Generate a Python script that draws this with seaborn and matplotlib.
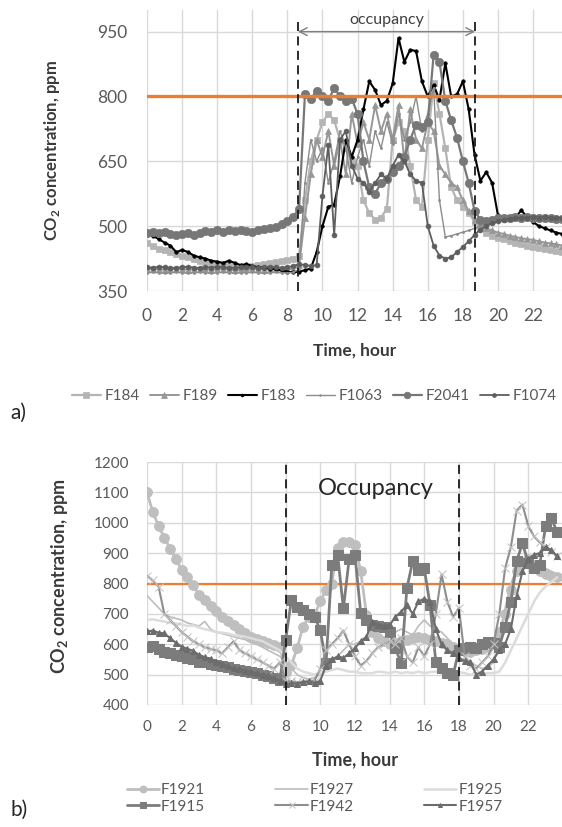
import numpy as np
import pandas as pd
import matplotlib
matplotlib.use("Agg")
import matplotlib.pyplot as plt
import seaborn as sns

# 20-minute readings over one day (hour of day)
hours = np.arange(72) / 3.0

# ---- panel a) ----
f184 = [460, 455, 448, 445, 440, 435, 430, 428, 425, 420, 418, 415,
        412, 410, 408, 406, 405, 405, 408, 410, 412, 415, 418, 420,
        422, 425, 432, 560, 650, 700, 740, 760, 745, 700, 680, 650,
        640, 560, 530, 515, 520, 540, 700, 740, 720, 640, 560, 545,
        700, 830, 760, 680, 590, 560, 545, 530, 510, 495, 485, 478,
        472, 470, 465, 462, 458, 455, 452, 450, 447, 445, 442, 440]
f189 = [400, 401, 400, 399, 400, 401, 400, 399, 400, 401, 400, 399,
        400, 401, 400, 399, 400, 400, 401, 400, 399, 400, 401, 400,
        400, 402, 410, 520, 620, 700, 660, 720, 640, 700, 620, 760,
        690, 740, 700, 780, 720, 760, 700, 780, 650, 770, 700, 680,
        740, 720, 640, 620, 600, 590, 560, 535, 515, 505, 495, 490,
        485, 482, 478, 475, 472, 470, 468, 465, 462, 460, 458, 455]
f183 = [482, 478, 470, 462, 455, 440, 445, 440, 432, 428, 425, 420,
        418, 415, 420, 415, 410, 412, 408, 405, 404, 402, 400, 398,
        395, 393, 395, 398, 402, 440, 500, 545, 550, 615, 700, 660,
        700, 770, 835, 815, 780, 790, 830, 935, 880, 908, 905, 835,
        800, 827, 792, 877, 800, 805, 835, 770, 665, 605, 625, 600,
        525, 515, 518, 520, 537, 520, 510, 500, 495, 490, 485, 482]
f1063 = [392, 393, 392, 391, 392, 393, 392, 391, 392, 393, 392, 391,
         392, 393, 392, 391, 392, 392, 393, 392, 391, 392, 393, 392,
         392, 393, 400, 600, 700, 650, 680, 600, 650, 720, 680, 600,
         660, 700, 640, 720, 680, 740, 690, 760, 700, 740, 800, 720,
         760, 820, 560, 475, 478, 482, 486, 490, 495, 500, 505, 508,
         512, 515, 518, 518, 520, 520, 520, 520, 518, 518, 517, 516]
f2041 = [485, 487, 484, 486, 483, 480, 482, 485, 480, 484, 488, 486,
         490, 487, 491, 489, 492, 488, 487, 490, 493, 495, 498, 505,
         512, 522, 540, 805, 795, 812, 800, 790, 820, 800, 790, 795,
         760, 650, 590, 575, 600, 610, 625, 640, 660, 700, 735, 730,
         740, 896, 880, 790, 745, 705, 650, 600, 535, 515, 512, 515,
         518, 520, 520, 522, 520, 521, 520, 519, 520, 518, 517, 516]
f1074 = [405, 404, 406, 405, 403, 404, 405, 406, 404, 403, 405, 404,
         406, 405, 403, 404, 405, 406, 405, 404, 405, 406, 405, 404,
         405, 408, 412, 410, 408, 410, 570, 688, 480, 700, 720, 640,
         610, 600, 580, 600, 620, 610, 640, 665, 650, 620, 605, 600,
         500, 455, 432, 425, 428, 440, 452, 465, 480, 492, 500, 507,
         512, 515, 517, 518, 520, 520, 521, 520, 521, 520, 519, 518]

# ---- panel b) ----
f1921 = [1100, 1035, 990, 950, 915, 880, 845, 820, 795, 763, 745, 725,
         708, 690, 675, 664, 650, 638, 625, 618, 610, 603, 598, 592,
         510, 532, 587, 658, 690, 697, 741, 780, 800, 916, 938, 935,
         927, 840, 697, 640, 620, 610, 600, 605, 610, 615, 620, 625,
         620, 615, 610, 605, 600, 590, 585, 578, 575, 580, 585, 590,
         600, 640, 700, 780, 840, 870, 880, 860, 840, 830, 825, 820]
f1927 = [760, 740, 720, 700, 690, 685, 680, 670, 665, 660, 675, 650,
         640, 635, 630, 625, 620, 615, 605, 600, 590, 580, 570, 560,
         540, 520, 500, 490, 485, 490, 500, 520, 540, 560, 580, 600,
         600, 610, 620, 630, 640, 650, 660, 640, 650, 640, 630, 660,
         680, 660, 650, 640, 620, 600, 580, 560, 540, 530, 520, 525,
         540, 600, 720, 800, 850, 870, 880, 870, 860, 850, 840, 830]
f1925 = [680, 682, 678, 675, 670, 668, 665, 660, 662, 655, 650, 645,
         640, 638, 635, 630, 628, 625, 620, 615, 610, 600, 590, 580,
         560, 540, 520, 510, 505, 500, 505, 510, 515, 520, 515, 510,
         510, 505, 505, 505, 510, 508, 505, 510, 505, 508, 505, 510,
         505, 508, 510, 505, 505, 510, 508, 505, 500, 500, 502, 505,
         505, 510, 540, 580, 620, 660, 700, 740, 770, 790, 805, 820]
f1915 = [592, 595, 585, 575, 570, 565, 560, 555, 550, 543, 540, 535,
         532, 528, 524, 520, 516, 513, 510, 505, 500, 494, 488, 482,
         614, 746, 724, 713, 700, 690, 647, 537, 862, 895, 718, 880,
         895, 702, 680, 663, 660, 658, 641, 587, 537, 785, 873, 846,
         850, 730, 543, 521, 505, 499, 581, 587, 590, 587, 600, 609,
         605, 592, 658, 740, 873, 933, 868, 851, 862, 988, 1015, 970]
f1942 = [825, 810, 790, 700, 680, 660, 640, 625, 610, 600, 590, 585,
         580, 570, 590, 610, 580, 570, 560, 550, 540, 530, 520, 540,
         480, 478, 475, 476, 478, 480, 520, 580, 600, 620, 645, 600,
         560, 530, 545, 570, 590, 600, 610, 600, 620, 560, 540, 590,
         560, 600, 700, 830, 740, 690, 720, 560, 530, 520, 540, 560,
         600, 700, 850, 920, 1040, 1060, 990, 955, 935, 920, 905, 890]
f1957 = [642, 645, 638, 636, 620, 605, 592, 585, 578, 565, 558, 550,
         543, 535, 528, 521, 517, 513, 510, 505, 500, 494, 488, 480,
         470, 472, 470, 475, 478, 472, 480, 530, 550, 560, 555, 570,
         587, 610, 625, 674, 665, 660, 663, 690, 707, 729, 700, 741,
         750, 740, 650, 600, 580, 570, 555, 545, 540, 500, 510, 530,
         550, 580, 600, 650, 760, 840, 880, 895, 900, 920, 910, 890]

hour_ticks = list(range(0, 24, 2))
yticks_a = [350, 500, 650, 800, 950]
yticks_b = [400, 500, 600, 700, 800, 900, 1000, 1100, 1200]
limit_ppm = 800
occ_a = (8.6, 18.7)
occ_b = (8.0, 18.0)

sns.set_style("white")
plt.rcParams["font.family"] = ["Lato", "DejaVu Sans"]
plt.rcParams["mathtext.fontset"] = "custom"
plt.rcParams["mathtext.rm"] = "Lato"
plt.rcParams["mathtext.bf"] = "Lato:bold"

TICK = "#595959"
LAB = "#3a3a3a"
GRID = "#d9d9d9"
ORANGE = "#ed7d31"

W, H = 562, 827
fig = plt.figure(figsize=(W / 100, H / 100), dpi=100)
ax1 = fig.add_axes([147 / W, 1 - 291 / H, 415 / W, 281 / H])
ax2 = fig.add_axes([147 / W, 1 - 705 / H, 415 / W, 243 / H])

styles_a = [
    ("F184", f184, dict(color="#b4b4b4", marker="s", markersize=5, linewidth=1.6)),
    ("F189", f189, dict(color="#979797", marker="^", markersize=5, linewidth=1.4)),
    ("F183", f183, dict(color="#000000", marker="o", markersize=2.5, linewidth=1.5)),
    ("F1063", f1063, dict(color="#8c8c8c", marker="o", markersize=1.5, linewidth=1.0)),
    ("F2041", f2041, dict(color="#777777", marker="o", markersize=6, linewidth=1.6)),
    ("F1074", f1074, dict(color="#5e5e5e", marker="o", markersize=3.5, linewidth=1.3)),
]
for name, vals, kw in styles_a:
    sns.lineplot(x=hours, y=vals, ax=ax1, label=name, legend=False,
                 markeredgecolor=kw["color"], markeredgewidth=0.5, **kw)

styles_b = [
    ("F1921", f1921, dict(color="#bfbfbf", marker="o", markersize=7, linewidth=2.0, markeredgecolor="#bfbfbf")),
    ("F1927", f1927, dict(color="#bdbdbd", linewidth=1.2)),
    ("F1925", f1925, dict(color="#dcdcdc", linewidth=1.8)),
    ("F1915", f1915, dict(color="#7c7c7c", marker="s", markersize=7, linewidth=2.0, markeredgecolor="#7c7c7c")),
    ("F1942", f1942, dict(color="#8e8e8e", marker="x", markersize=6, linewidth=1.5, markeredgecolor="#c4c4c4")),
    ("F1957", f1957, dict(color="#6c6c6c", marker="^", markersize=4, linewidth=1.5, markeredgecolor="#6c6c6c")),
]
for name, vals, kw in styles_b:
    sns.lineplot(x=hours, y=vals, ax=ax2, label=name, legend=False, **kw)

# threshold and occupancy markers
ax1.axhline(limit_ppm, color=ORANGE, linewidth=2.4, zorder=5)
ax2.axhline(limit_ppm, color=ORANGE, linewidth=1.6, zorder=1.5)
for x in occ_a:
    ax1.axvline(x, ymin=0, ymax=0.97, color="#1a1a1a", linestyle=(0, (5, 3)), linewidth=1.3, zorder=6)
for x in occ_b:
    ax2.axvline(x, color="#1a1a1a", linestyle=(0, (5, 3)), linewidth=1.3, zorder=6)
ax1.annotate("", xy=(occ_a[0], 950), xytext=(occ_a[1], 950),
             arrowprops=dict(arrowstyle="<->", color="#7f7f7f", lw=1.0,
                             shrinkA=0, shrinkB=0, mutation_scale=14), zorder=6)
ax1.text(sum(occ_a) / 2, 978, "occupancy", ha="center", va="center",
         fontsize=11.5, color="#404040")
ax2.text(13.2, 1112, "Occupancy", ha="center", va="center",
         fontsize=17, color="#262626")

# axes styling (Excel-like)
for ax, yt, ylim, xmax, fs in [(ax1, yticks_a, (350, 1000), 23.65, 12.5),
                               (ax2, yticks_b, (400, 1200), 23.95, 11)]:
    ax.set_xlim(0, xmax)
    ax.set_ylim(*ylim)
    ax.set_xticks(hour_ticks)
    ax.set_yticks(yt)
    ax.grid(True, color=GRID, linewidth=1.0)
    ax.set_axisbelow(True)
    for s in ax.spines.values():
        s.set_visible(False)
    ax.tick_params(length=0, labelsize=fs, colors=TICK)
    ax.set_xlabel("Time, hour", fontsize=12.5 if ax is ax1 else 13,
                  fontweight="bold", color=LAB)
    ax.set_ylabel(r"CO$_{\mathbf{2}}$ concentration, ppm", fontsize=12 if ax is ax1 else 13,
                  fontweight="bold", color=LAB)

ax1.tick_params(axis="y", pad=14)
ax1.tick_params(axis="x", pad=12)
ax2.tick_params(axis="y", pad=13)
ax2.tick_params(axis="x", pad=11)
ax1.yaxis.set_label_coords(-0.205, 0.5)
ax2.yaxis.set_label_coords(-0.186, 0.53)
ax1.xaxis.set_label_coords(0.5, -0.185)
ax2.xaxis.set_label_coords(0.5, -0.19)

# legends
h1, l1 = ax1.get_legend_handles_labels()
fig.legend(h1, l1, ncol=6, loc="center", bbox_to_anchor=(0.559, 1 - 396 / H),
           frameon=False, fontsize=11, handlelength=1.9, handletextpad=0.25,
           columnspacing=0.65, labelcolor=TICK, borderaxespad=0, markerscale=0.8)
h2, l2 = ax2.get_legend_handles_labels()
order = [0, 3, 1, 4, 2, 5]
fig.legend([h2[i] for i in order], [l2[i] for i in order], ncol=3, loc="center",
           bbox_to_anchor=(0.56, 1 - 798.5 / H), frameon=False, fontsize=11,
           handlelength=2.1, handletextpad=0.15, columnspacing=4.6,
           labelspacing=0.15, labelcolor=TICK, borderaxespad=0, markerscale=0.7)

fig.text(10 / W, 1 - 413 / H, "a)", fontsize=15, va="center", ha="left", color="#262626")
fig.text(10 / W, 1 - 810 / H, "b)", fontsize=15, va="center", ha="left", color="#262626")

fig.savefig("out.png", dpi=100)
